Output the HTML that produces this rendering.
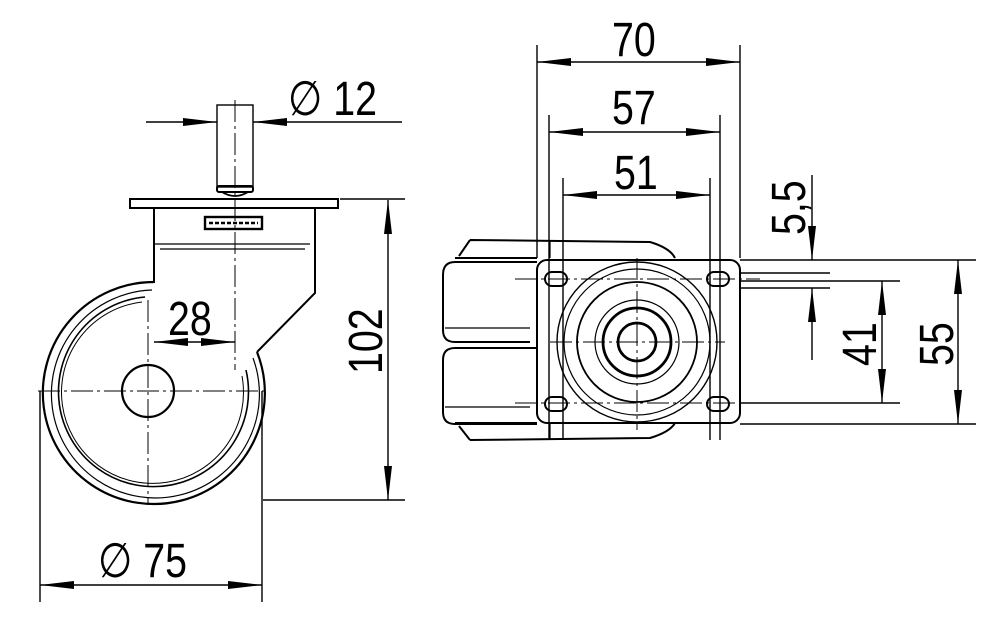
<!DOCTYPE html>
<html><head><meta charset="utf-8"><style>
html,body{margin:0;padding:0;background:#fff;width:1000px;height:633px;overflow:hidden}
svg{display:block}
text{font-family:"Liberation Sans",sans-serif;font-size:48px;fill:#000}
</style></head><body>
<svg width="1000" height="633" viewBox="0 0 1000 633" xmlns="http://www.w3.org/2000/svg">
<defs>
<marker id="a" viewBox="0 0 34 8" refX="34" refY="4" markerWidth="34" markerHeight="8" markerUnits="userSpaceOnUse" orient="auto-start-reverse">
<path d="M0,0 L34,4 L0,8 Z" fill="#000"/>
</marker>
</defs>
<g fill="none" stroke="#000" stroke-width="1.4">
<!-- LEFT VIEW -->
<rect x="217" y="105" width="36" height="82"/>
<rect x="217" y="186" width="36" height="6" rx="2" stroke-width="2"/>
<path d="M222,192 Q235,200 248,192" stroke-width="1.8"/>
<rect x="130" y="199" width="208" height="9" stroke-width="2"/>
<path d="M154,208 V283" stroke-width="2"/>
<path d="M315,208 V293 L257,352" stroke-width="2"/>
<path d="M154,244 H310 M160,249 H305" stroke-width="1.2"/>
<rect x="205" y="217" width="57" height="12" stroke-width="2.4"/>
<path d="M209,223 H258" stroke-width="2.4" stroke-dasharray="4,2"/>
<path d="M154,282 A111,111 0 1 0 257,352" stroke-width="2.2"/>
<path d="M152,290 A104,104 0 1 0 253,358" stroke-width="1.2"/>
<path d="M145,297 A95,95 0 1 0 246,370" stroke-width="1.6"/>
<path d="M142,302 A91,91 0 1 0 242,376" stroke-width="1"/>
<circle cx="148" cy="391" r="26" stroke-width="2.2"/>
<path d="M235,100 V370 M148,300 V505 M38,391 H268" stroke-width="1" stroke-dasharray="22,4,3,4"/>
<path d="M146,122 H217" marker-end="url(#a)"/>
<path d="M402,122 H253" marker-end="url(#a)"/>
<path d="M154,342 H235" marker-start="url(#a)" marker-end="url(#a)"/>
<path d="M340,199 H405 M263,500 H405"/>
<path d="M388,200 V500" marker-start="url(#a)" marker-end="url(#a)"/>
<path d="M40,391 V602 M262,391 V602"/>
<path d="M40,585 H262" marker-start="url(#a)" marker-end="url(#a)"/>

<!-- RIGHT VIEW -->
<path d="M470,240 L650,242 Q670,248 675,258 M459,256 L470,240 M455,258 H537" stroke-width="2"/>
<path d="M470,440 L650,438 Q670,432 675,423 M459,426 L470,440 M455,423 H537" stroke-width="2"/>
<path d="M550,240 V258 M550,423 V440" stroke-width="1.2"/>
<path d="M537,262 H455 Q443,262 443,275 V330 Q443,342 455,342 H530 M537,348 H455 Q443,348 443,360 V412 Q443,424 455,424 H537" stroke-width="2"/>
<path d="M445,328 H530 M445,407 H530" stroke-width="1.2"/>
<rect x="537" y="260" width="203" height="163" rx="10" stroke-width="2"/>
<circle cx="637" cy="342" r="80" stroke-width="1.4"/>
<circle cx="637" cy="342" r="73" stroke-width="1.2"/>
<circle cx="637" cy="342" r="60" stroke-width="1.8"/>
<circle cx="637" cy="342" r="42" stroke-width="1.2"/>
<circle cx="637" cy="342" r="34" stroke-width="2.8"/>
<circle cx="637" cy="342" r="19" stroke-width="2.8"/>
<rect x="545" y="272" width="22" height="14" rx="7" stroke-width="2"/>
<rect x="707" y="272" width="22" height="14" rx="7" stroke-width="2"/>
<rect x="545" y="397" width="22" height="14" rx="7" stroke-width="2"/>
<rect x="707" y="397" width="22" height="14" rx="7" stroke-width="2"/>
<path d="M637,258 V430 M550,342 H725 M515,279 H760 M515,403 H760" stroke-width="1" stroke-dasharray="22,4,3,4"/>
<path d="M537,45 V258 M740,45 V258 M549,115 V440 M720,115 V440 M563,178 V440 M710,178 V440"/>
<path d="M537,62 H740" marker-start="url(#a)" marker-end="url(#a)"/>
<path d="M549,132 H720" marker-start="url(#a)" marker-end="url(#a)"/>
<path d="M563,195 H710" marker-start="url(#a)" marker-end="url(#a)"/>
<path d="M740,260 H976 M740,273 H830 M740,288 H830 M740,281 H900 M740,403 H900 M740,424 H976"/>
<path d="M958,260 V424" marker-start="url(#a)" marker-end="url(#a)"/>
<path d="M882,281 V403" marker-start="url(#a)" marker-end="url(#a)"/>
<path d="M812,175 V260" marker-end="url(#a)"/>
<path d="M812,360 V288" marker-end="url(#a)"/>
</g>
<g>
<text transform="translate(288,115) scale(0.82,1)">∅ 12</text>
<text transform="translate(168,335) scale(0.82,1)">28</text>
<text transform="translate(98,577) scale(0.82,1)">∅ 75</text>
<text transform="translate(382,374) rotate(-90) scale(0.82,1)">102</text>
<text transform="translate(612,56) scale(0.82,1)">70</text>
<text transform="translate(612,124) scale(0.82,1)">57</text>
<text transform="translate(614,189) scale(0.82,1)">51</text>
<text transform="translate(805,235) rotate(-90) scale(0.82,1)">5,5</text>
<text transform="translate(876,366) rotate(-90) scale(0.82,1)">41</text>
<text transform="translate(953,366) rotate(-90) scale(0.82,1)">55</text>
</g>
</svg>
</body></html>
